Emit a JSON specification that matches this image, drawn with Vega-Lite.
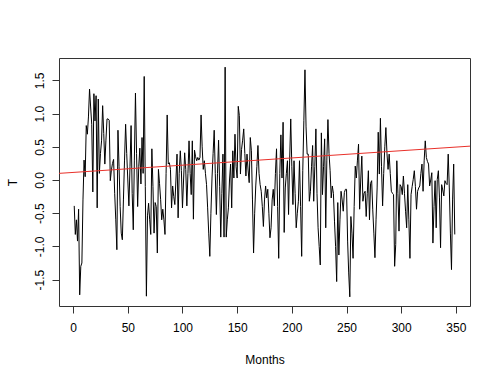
{
  "$schema": "https://vega.github.io/schema/vega-lite/v6.json",
  "autosize": "none",
  "width": 411,
  "height": 248,
  "padding": {"left": 59, "top": 58, "right": 30, "bottom": 74},
  "background": "white",
  "config": {
    "view": {"stroke": "#333333", "strokeWidth": 1},
    "font": "Liberation Sans"
  },
  "datasets": {
    "series": [
      {"Months":1,"T":-0.39},{"Months":2,"T":-0.82},{"Months":3,"T":-0.60},{"Months":4,"T":-0.92},{"Months":5,"T":-0.44},{"Months":6,"T":-1.73},{"Months":7,"T":-1.30},{"Months":8,"T":-1.25},{"Months":9,"T":-0.30},{"Months":10,"T":0.30},
      {"Months":11,"T":0.05},{"Months":12,"T":0.82},{"Months":13,"T":0.69},{"Months":14,"T":0.95},{"Months":15,"T":1.37},{"Months":16,"T":1.10},{"Months":17,"T":0.84},{"Months":18,"T":-0.18},{"Months":19,"T":1.30},{"Months":20,"T":0.89},
      {"Months":21,"T":1.27},{"Months":22,"T":-0.42},{"Months":23,"T":1.22},{"Months":24,"T":0.10},{"Months":25,"T":0.40},{"Months":26,"T":0.59},{"Months":27,"T":1.12},{"Months":28,"T":0.70},{"Months":29,"T":0.24},{"Months":30,"T":0.60},
      {"Months":31,"T":0.92},{"Months":32,"T":0.92},{"Months":33,"T":0.90},{"Months":34,"T":-0.01},{"Months":35,"T":0.15},{"Months":36,"T":0.25},{"Months":37,"T":0.31},{"Months":38,"T":-0.20},{"Months":39,"T":-0.60},{"Months":40,"T":-1.05},
      {"Months":41,"T":0.75},{"Months":42,"T":0.20},{"Months":43,"T":-0.40},{"Months":44,"T":-0.80},{"Months":45,"T":-0.90},{"Months":46,"T":-0.30},{"Months":47,"T":0.30},{"Months":48,"T":0.84},{"Months":49,"T":0.40},{"Months":50,"T":0.00},
      {"Months":51,"T":-0.39},{"Months":52,"T":0.20},{"Months":53,"T":0.82},{"Months":54,"T":-0.20},{"Months":55,"T":-0.75},{"Months":56,"T":0.30},{"Months":57,"T":1.31},{"Months":58,"T":0.40},{"Months":59,"T":-0.40},{"Months":60,"T":0.20},
      {"Months":61,"T":0.48},{"Months":62,"T":-0.06},{"Months":63,"T":0.64},{"Months":64,"T":0.10},{"Months":65,"T":1.56},{"Months":66,"T":-0.10},{"Months":67,"T":-1.75},{"Months":68,"T":-0.54},{"Months":69,"T":-0.35},{"Months":70,"T":-0.60},
      {"Months":71,"T":-0.82},{"Months":72,"T":0.47},{"Months":73,"T":-0.10},{"Months":74,"T":-0.80},{"Months":75,"T":-0.34},{"Months":76,"T":-0.40},{"Months":77,"T":-1.10},{"Months":78,"T":0.16},{"Months":79,"T":-0.05},{"Months":80,"T":-0.29},
      {"Months":81,"T":-0.60},{"Months":82,"T":-0.44},{"Months":83,"T":-0.60},{"Months":84,"T":-0.82},{"Months":85,"T":0.10},{"Months":86,"T":0.98},{"Months":87,"T":0.24},{"Months":88,"T":0.26},{"Months":89,"T":0.16},{"Months":90,"T":-0.42},
      {"Months":91,"T":-0.09},{"Months":92,"T":-0.25},{"Months":93,"T":-0.37},{"Months":94,"T":0.00},{"Months":95,"T":0.39},{"Months":96,"T":-0.57},{"Months":97,"T":0.10},{"Months":98,"T":0.44},{"Months":99,"T":0.14},{"Months":100,"T":-0.42},
      {"Months":101,"T":0.00},{"Months":102,"T":0.41},{"Months":103,"T":0.16},{"Months":104,"T":-0.39},{"Months":105,"T":0.10},{"Months":106,"T":0.59},{"Months":107,"T":0.10},{"Months":108,"T":-0.22},{"Months":109,"T":0.59},{"Months":110,"T":-0.59},
      {"Months":111,"T":0.45},{"Months":112,"T":0.35},{"Months":113,"T":0.29},{"Months":114,"T":0.34},{"Months":115,"T":0.30},{"Months":116,"T":0.34},{"Months":117,"T":0.98},{"Months":118,"T":0.50},{"Months":119,"T":0.16},{"Months":120,"T":0.29},
      {"Months":121,"T":0.10},{"Months":122,"T":-0.07},{"Months":123,"T":-0.42},{"Months":124,"T":-0.80},{"Months":125,"T":-1.15},{"Months":126,"T":-0.50},{"Months":127,"T":0.03},{"Months":128,"T":0.40},{"Months":129,"T":0.75},{"Months":130,"T":0.10},
      {"Months":131,"T":-0.52},{"Months":132,"T":0.10},{"Months":133,"T":0.60},{"Months":134,"T":-0.10},{"Months":135,"T":-0.86},{"Months":136,"T":-0.20},{"Months":137,"T":0.39},{"Months":138,"T":-0.86},{"Months":139,"T":1.70},{"Months":140,"T":-0.86},
      {"Months":141,"T":-0.60},{"Months":142,"T":-0.42},{"Months":143,"T":0.00},{"Months":144,"T":0.24},{"Months":145,"T":-0.42},{"Months":146,"T":0.44},{"Months":147,"T":0.03},{"Months":148,"T":0.69},{"Months":149,"T":0.20},{"Months":150,"T":0.03},
      {"Months":151,"T":1.11},{"Months":152,"T":0.97},{"Months":153,"T":0.09},{"Months":154,"T":0.46},{"Months":155,"T":0.60},{"Months":156,"T":0.77},{"Months":157,"T":0.40},{"Months":158,"T":0.06},{"Months":159,"T":0.39},{"Months":160,"T":0.15},
      {"Months":161,"T":-0.04},{"Months":162,"T":0.64},{"Months":163,"T":0.44},{"Months":164,"T":-0.30},{"Months":165,"T":-1.10},{"Months":166,"T":-0.50},{"Months":167,"T":-0.09},{"Months":168,"T":0.20},{"Months":169,"T":0.52},{"Months":170,"T":0.10},
      {"Months":171,"T":-0.07},{"Months":172,"T":-0.17},{"Months":173,"T":-0.40},{"Months":174,"T":-0.70},{"Months":175,"T":-0.30},{"Months":176,"T":-0.09},{"Months":177,"T":-0.27},{"Months":178,"T":-0.14},{"Months":179,"T":-0.50},{"Months":180,"T":-0.87},
      {"Months":181,"T":-0.72},{"Months":182,"T":-0.30},{"Months":183,"T":-0.14},{"Months":184,"T":-0.39},{"Months":185,"T":0.10},{"Months":186,"T":0.47},{"Months":187,"T":-0.40},{"Months":188,"T":-1.18},{"Months":189,"T":0.10},{"Months":190,"T":0.68},
      {"Months":191,"T":0.03},{"Months":192,"T":0.87},{"Months":193,"T":-0.79},{"Months":194,"T":-0.12},{"Months":195,"T":0.10},{"Months":196,"T":0.29},{"Months":197,"T":-0.52},{"Months":198,"T":0.30},{"Months":199,"T":0.92},{"Months":200,"T":0.20},
      {"Months":201,"T":-0.37},{"Months":202,"T":0.29},{"Months":203,"T":-0.20},{"Months":204,"T":-0.72},{"Months":205,"T":-0.50},{"Months":206,"T":-0.32},{"Months":207,"T":0.29},{"Months":208,"T":-0.40},{"Months":209,"T":-1.15},{"Months":210,"T":0.14},
      {"Months":211,"T":0.90},{"Months":212,"T":1.66},{"Months":213,"T":0.80},{"Months":214,"T":0.39},{"Months":215,"T":0.39},{"Months":216,"T":-0.32},{"Months":217,"T":-0.17},{"Months":218,"T":0.20},{"Months":219,"T":0.52},{"Months":220,"T":-0.32},
      {"Months":221,"T":0.20},{"Months":222,"T":0.77},{"Months":223,"T":-0.20},{"Months":224,"T":-0.72},{"Months":225,"T":-1.00},{"Months":226,"T":-1.28},{"Months":227,"T":0.71},{"Months":228,"T":-0.22},{"Months":229,"T":0.20},{"Months":230,"T":0.62},
      {"Months":231,"T":-0.72},{"Months":232,"T":0.30},{"Months":233,"T":0.91},{"Months":234,"T":0.40},{"Months":235,"T":0.14},{"Months":236,"T":-0.27},{"Months":237,"T":-0.09},{"Months":238,"T":-0.20},{"Months":239,"T":-0.62},{"Months":240,"T":-1.00},
      {"Months":241,"T":-1.53},{"Months":242,"T":-0.34},{"Months":243,"T":-1.13},{"Months":244,"T":-0.60},{"Months":245,"T":-0.17},{"Months":246,"T":-0.30},{"Months":247,"T":-0.47},{"Months":248,"T":-0.19},{"Months":249,"T":-0.14},{"Months":250,"T":-0.14},
      {"Months":251,"T":-0.92},{"Months":252,"T":-1.40},{"Months":253,"T":-1.76},{"Months":254,"T":-0.55},{"Months":255,"T":-0.80},{"Months":256,"T":-1.18},{"Months":257,"T":-0.40},{"Months":258,"T":0.21},{"Months":259,"T":0.03},{"Months":260,"T":0.30},
      {"Months":261,"T":0.54},{"Months":262,"T":-0.44},{"Months":263,"T":0.00},{"Months":264,"T":0.36},{"Months":265,"T":-0.32},{"Months":266,"T":-0.20},{"Months":267,"T":-0.17},{"Months":268,"T":-0.55},{"Months":269,"T":-0.20},{"Months":270,"T":0.14},
      {"Months":271,"T":-0.60},{"Months":272,"T":-0.05},{"Months":273,"T":-0.01},{"Months":274,"T":-0.45},{"Months":275,"T":-0.80},{"Months":276,"T":-1.17},{"Months":277,"T":-0.60},{"Months":278,"T":-0.12},{"Months":279,"T":0.72},{"Months":280,"T":0.09},
      {"Months":281,"T":0.93},{"Months":282,"T":0.20},{"Months":283,"T":-0.39},{"Months":284,"T":0.10},{"Months":285,"T":0.50},{"Months":286,"T":0.79},{"Months":287,"T":0.40},{"Months":288,"T":0.16},{"Months":289,"T":0.39},{"Months":290,"T":0.10},
      {"Months":291,"T":-0.17},{"Months":292,"T":-0.20},{"Months":293,"T":-0.22},{"Months":294,"T":-1.30},{"Months":295,"T":-0.97},{"Months":296,"T":0.29},{"Months":297,"T":-0.20},{"Months":298,"T":-0.77},{"Months":299,"T":-0.07},{"Months":300,"T":-0.10},
      {"Months":301,"T":-0.22},{"Months":302,"T":0.06},{"Months":303,"T":-0.20},{"Months":304,"T":-0.47},{"Months":305,"T":-0.72},{"Months":306,"T":-0.07},{"Months":307,"T":-0.60},{"Months":308,"T":-1.18},{"Months":309,"T":-0.22},{"Months":310,"T":-0.10},
      {"Months":311,"T":0.01},{"Months":312,"T":0.14},{"Months":313,"T":-0.10},{"Months":314,"T":-0.44},{"Months":315,"T":-0.17},{"Months":316,"T":-0.12},{"Months":317,"T":-0.09},{"Months":318,"T":0.10},{"Months":319,"T":0.24},{"Months":320,"T":-0.17},
      {"Months":321,"T":0.29},{"Months":322,"T":0.59},{"Months":323,"T":0.34},{"Months":324,"T":0.28},{"Months":325,"T":0.24},{"Months":326,"T":-0.09},{"Months":327,"T":0.00},{"Months":328,"T":0.11},{"Months":329,"T":-0.95},{"Months":330,"T":-0.40},
      {"Months":331,"T":-0.01},{"Months":332,"T":-0.72},{"Months":333,"T":0.01},{"Months":334,"T":0.14},{"Months":335,"T":-0.27},{"Months":336,"T":-1.02},{"Months":337,"T":-0.07},{"Months":338,"T":-0.15},{"Months":339,"T":-0.24},{"Months":340,"T":-0.01},
      {"Months":341,"T":-0.05},{"Months":342,"T":-0.07},{"Months":343,"T":0.39},{"Months":344,"T":-0.12},{"Months":345,"T":-0.80},{"Months":346,"T":-1.35},{"Months":347,"T":-0.30},{"Months":348,"T":0.24},{"Months":349,"T":-0.82}
    ],
    "trend": [
      {"Months": -12.92, "T": 0.100},
      {"Months": 362.92, "T": 0.510}
    ]
  },
  "layer": [
    {
      "data": {"name": "series"},
      "mark": {"type": "line", "color": "black", "strokeWidth": 1, "clip": true},
      "encoding": {
        "x": {
          "field": "Months", "type": "quantitative",
          "scale": {"domain": [-12.92, 362.92], "nice": false, "zero": false},
          "axis": {
            "title": "Months", "values": [0, 50, 100, 150, 200, 250, 300, 350],
            "domain": false, "grid": false, "ticks": true, "tickSize": 7, "tickColor": "#333333",
            "labelFont": "Liberation Sans", "labelFontSize": 12, "labelColor": "black", "labelPadding": 9,
            "titleFont": "Liberation Sans", "titleFontSize": 12, "titleFontWeight": "normal", "titleColor": "black",
            "titleY": 53, "titleBaseline": "middle"
          }
        },
        "y": {
          "field": "T", "type": "quantitative",
          "scale": {"domain": [-1.898, 1.838], "nice": false, "zero": false},
          "axis": {
            "title": "T", "values": [-1.5, -1.0, -0.5, 0.0, 0.5, 1.0, 1.5],
            "labelExpr": "replace(format(datum.value, '.1f'), '\u2212', '-')",
            "domain": false, "grid": false, "ticks": true, "tickSize": 7, "tickColor": "#333333",
            "labelFont": "Liberation Sans", "labelFontSize": 12, "labelColor": "black",
            "labelAngle": -90, "labelAlign": "center", "labelBaseline": "bottom", "labelPadding": 6,
            "titleFont": "Liberation Sans", "titleFontSize": 12, "titleFontWeight": "normal", "titleColor": "black",
            "titleAngle": -90, "titleX": -47, "titleY": 124, "titleAlign": "center", "titleBaseline": "middle"
          }
        }
      }
    },
    {
      "data": {"name": "trend"},
      "mark": {"type": "line", "color": "#e8302a", "strokeWidth": 1, "clip": true},
      "encoding": {
        "x": {"field": "Months", "type": "quantitative"},
        "y": {"field": "T", "type": "quantitative"}
      }
    }
  ]
}
